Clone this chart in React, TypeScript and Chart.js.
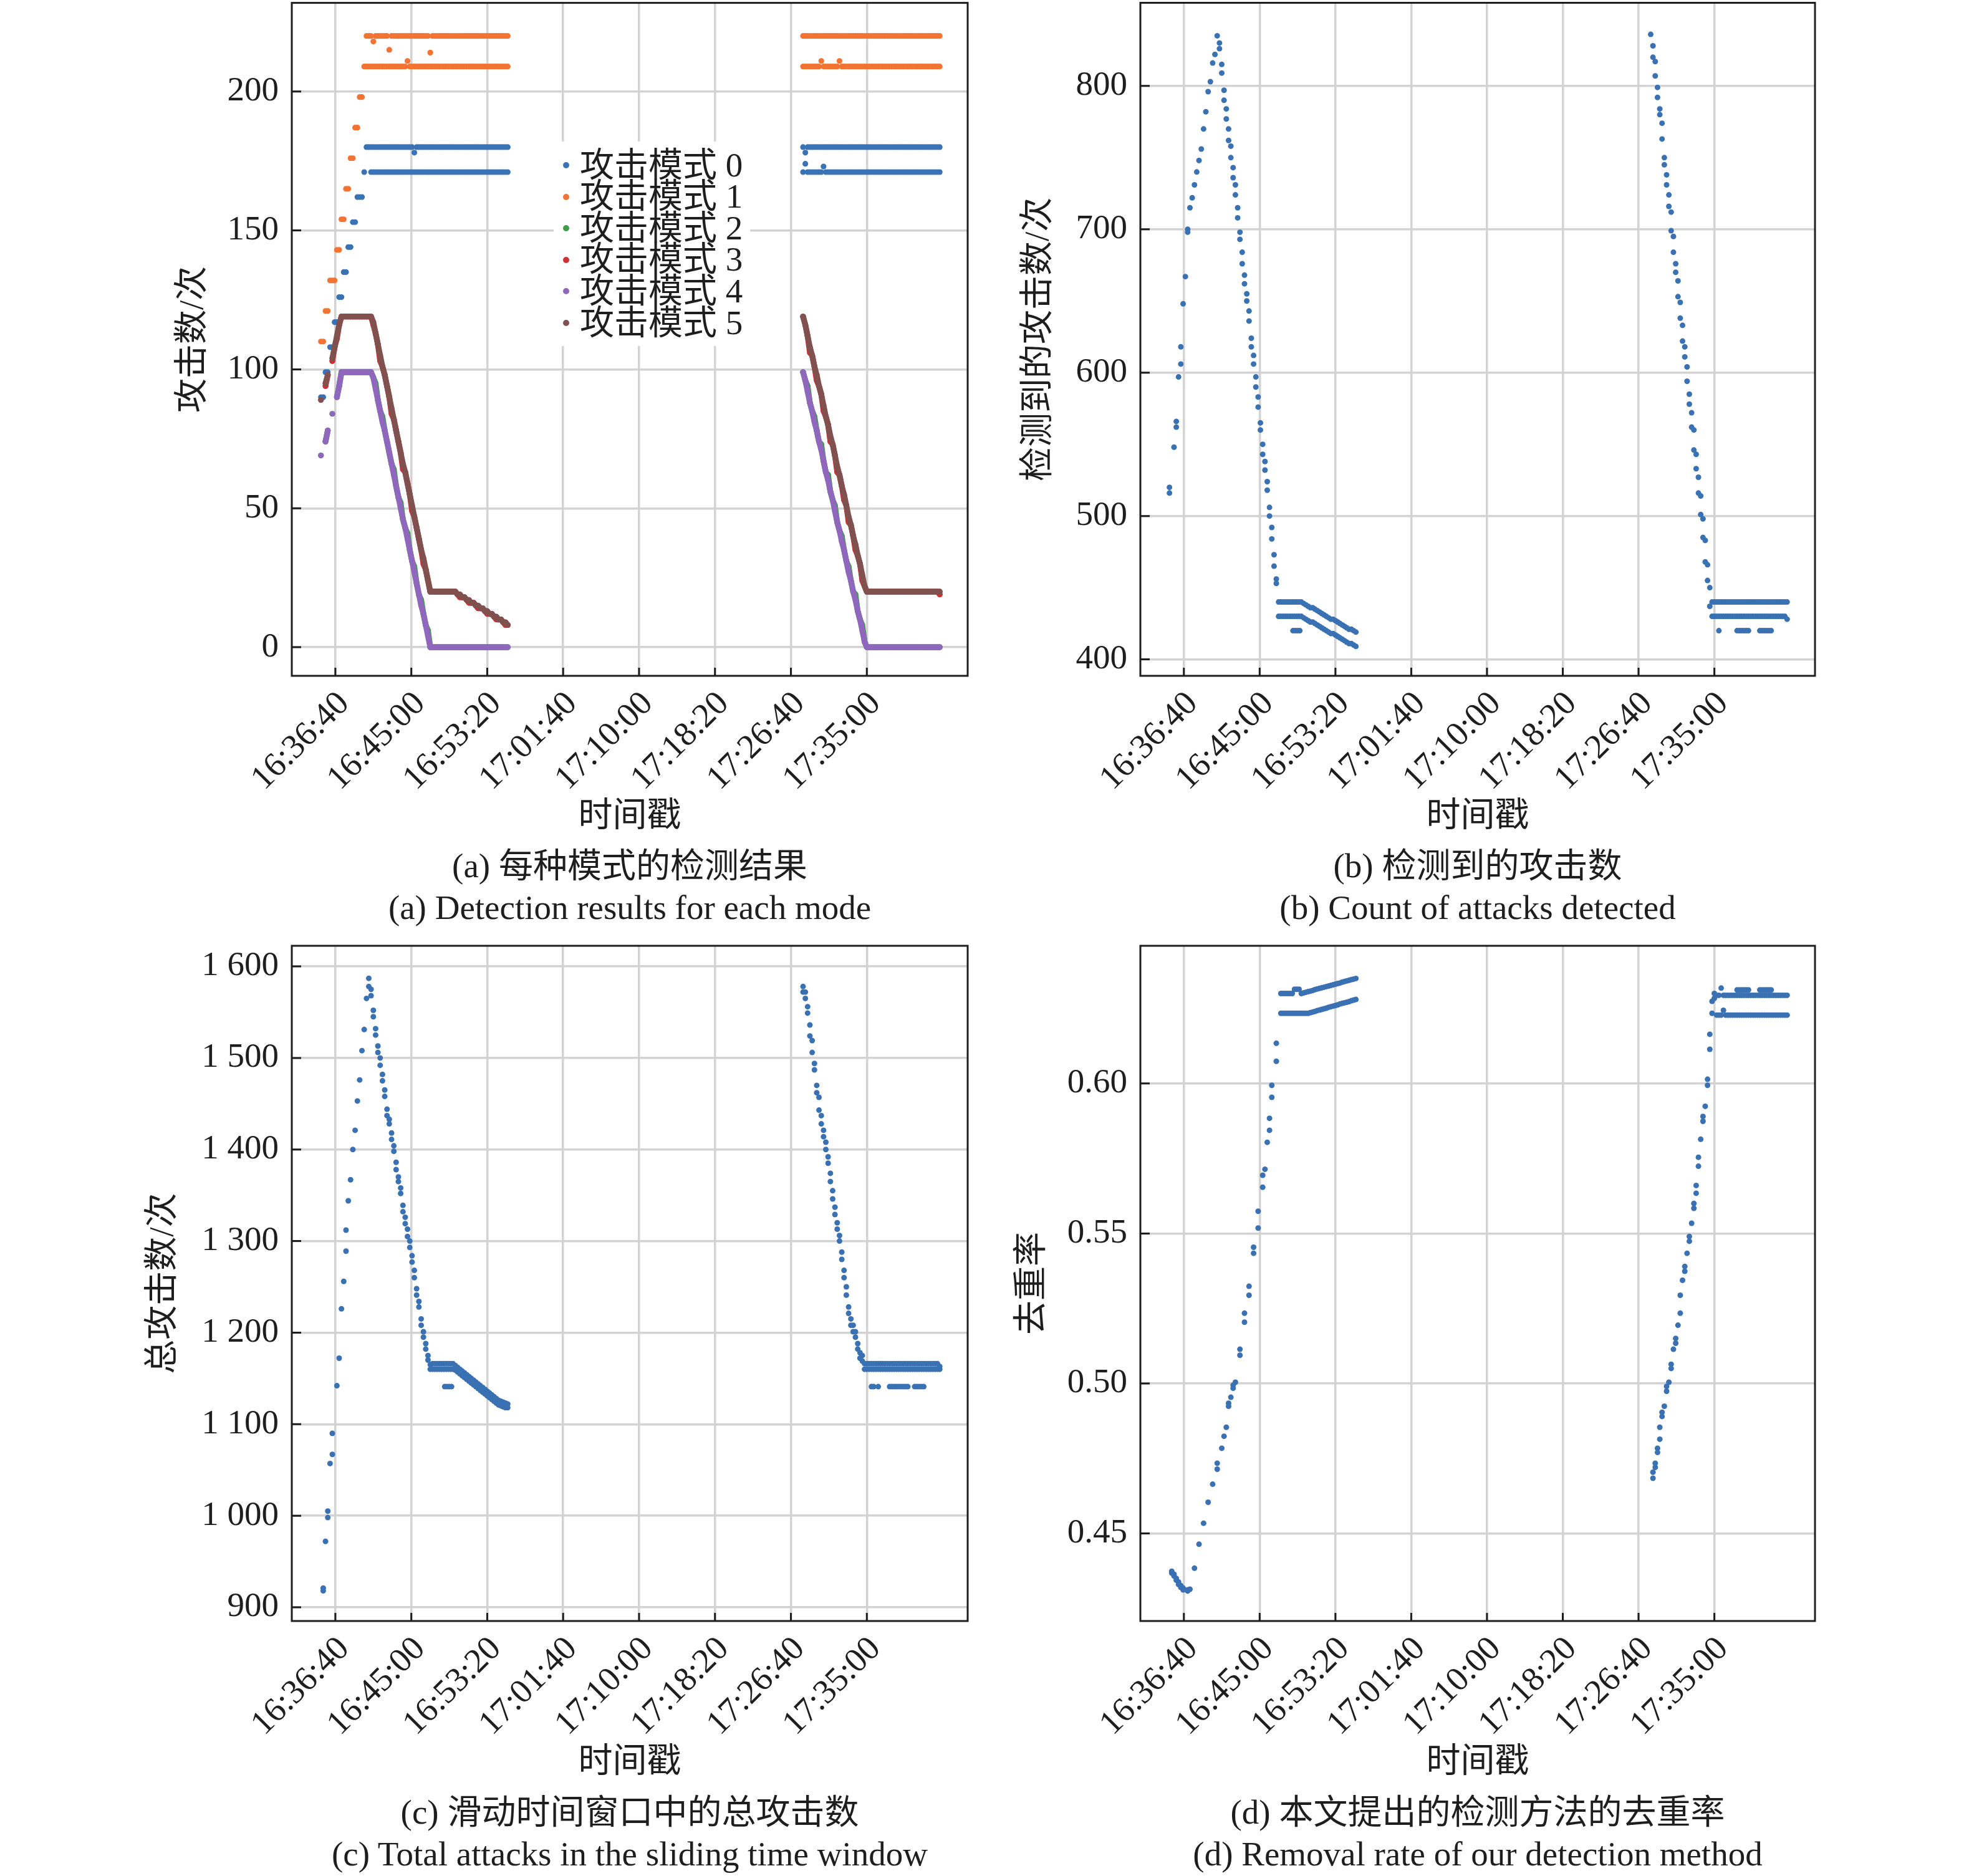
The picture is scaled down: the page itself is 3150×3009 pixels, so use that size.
import { useEffect, useRef } from 'react';
import { Chart, registerables } from 'chart.js';

Chart.register(...registerables);

type Val = number | null;
const N = null;

// time stamps in seconds after 16:30:00 (two recording segments)
const seg1Times = [
  305, 320, 335, 350, 365, 380, 395, 410, 425, 440,
  455, 470, 485, 500, 515, 530, 545, 560, 575, 590,
  605, 620, 635, 650, 665, 680, 695, 710, 725, 740,
  755, 770, 785, 800, 815, 830, 845, 860, 875, 890,
  905, 920, 935, 950, 965, 980, 995, 1010, 1025, 1040,
  1055, 1070, 1085, 1100, 1115, 1130, 1145, 1160, 1175, 1190,
  1205, 1220, 1235, 1250, 1265, 1280, 1295, 1310, 1325, 1340,
  1355, 1370, 1385, 1400, 1415, 1430, 1445, 1460, 1475, 1490,
  1505, 1520, 1535,
];
const seg2Times = [
  3480, 3495, 3510, 3525, 3540, 3555, 3570, 3585, 3600, 3615,
  3630, 3645, 3660, 3675, 3690, 3705, 3720, 3735, 3750, 3765,
  3780, 3795, 3810, 3825, 3840, 3855, 3870, 3885, 3900, 3915,
  3930, 3945, 3960, 3975, 3990, 4005, 4020, 4035, 4050, 4065,
  4080, 4095, 4110, 4125, 4140, 4155, 4170, 4185, 4200, 4215,
  4230, 4245, 4260, 4275, 4290, 4305, 4320, 4335, 4350, 4365,
  4380,
];

const xTickValues = [400, 900, 1400, 1900, 2400, 2900, 3400, 3900];
const xTickLabels = ['16:36:40', '16:45:00', '16:53:20', '17:01:40', '17:10:00', '17:18:20', '17:26:40', '17:35:00'];

const modeNames = ['攻击模式 0', '攻击模式 1', '攻击模式 2', '攻击模式 3', '攻击模式 4', '攻击模式 5'];
const modeColors = ['#3a73b5', '#f27332', '#3b9e47', '#cf3036', '#8f68bd', '#80514e'];

// (a) per-mode detection counts
const mode0Seg1: Val[] = [
  90, 90, 99, 99, 108, 108, 117, 117, 126, 126,
  135, 135, 144, 144, 153, 153, 162, 162, 162, 171,
  N, N, 171, 171, 171, 171, 171, 171, 171, 171,
  171, 171, 171, 171, 171, 171, 171, 171, 171, 171,
  171, 171, 171, 171, 171, 171, 171, 171, 171, 171,
  171, 171, 171, 171, 171, 171, 171, 171, 171, 171,
  171, 171, 171, 171, 171, 171, 171, 171, 171, 171,
  171, 171, 171, 171, 171, 171, 171, 171, 171, 171,
  171, 171, 171,
];
const mode0AltSeg1: Val[] = [
  N, N, N, N, N, N, N, N, N, N,
  N, N, N, N, N, N, N, N, N, N,
  180, 180, 180, 180, 180, 180, 180, 180, 180, 180,
  180, 180, 180, 180, 180, 180, 180, 180, 180, 180,
  180, 178, 180, 180, 180, 180, 180, 180, 180, 180,
  180, 180, 180, 180, 180, 180, 180, 180, 180, 180,
  180, 180, 180, 180, 180, 180, 180, 180, 180, 180,
  180, 180, 180, 180, 180, 180, 180, 180, 180, 180,
  180, 180, 180,
];
const mode0Seg2: Val[] = [
  171, 174, 171, 171, 171, 171, 171, 171, 171, 173,
  171, 171, 171, 171, 171, 171, 171, 171, 171, 171,
  171, 171, 171, 171, 171, 171, 171, 171, 171, 171,
  171, 171, 171, 171, 171, 171, 171, 171, 171, 171,
  171, 171, 171, 171, 171, 171, 171, 171, 171, 171,
  171, 171, 171, 171, 171, 171, 171, 171, 171, 171,
  171,
];
const mode0AltSeg2: Val[] = [
  180, 178, 180, 180, 180, 180, 180, 180, 180, 180,
  180, 180, 180, 180, 180, 180, 180, 180, 180, 180,
  180, 180, 180, 180, 180, 180, 180, 180, 180, 180,
  180, 180, 180, 180, 180, 180, 180, 180, 180, 180,
  180, 180, 180, 180, 180, 180, 180, 180, 180, 180,
  180, 180, 180, 180, 180, 180, 180, 180, 180, 180,
  180,
];
const mode1Seg1: Val[] = [
  110, 110, 121, 121, 132, 132, 132, 143, 143, 154,
  154, 165, 165, 176, 176, 187, 187, 198, 198, 209,
  209, 209, 209, 209, 209, 209, 209, 209, 209, 209,
  209, 209, 209, 209, 209, 209, 209, 209, 211, 209,
  209, 209, 209, 209, 209, 209, 209, 209, 209, 209,
  209, 209, 209, 209, 209, 209, 209, 209, 209, 209,
  209, 209, 209, 209, 209, 209, 209, 209, 209, 209,
  209, 209, 209, 209, 209, 209, 209, 209, 209, 209,
  209, 209, 209,
];
const mode1AltSeg1: Val[] = [
  N, N, N, N, N, N, N, N, N, N,
  N, N, N, N, N, N, N, N, N, N,
  220, 220, 220, 218, 220, 220, 220, 220, 220, 220,
  215, 220, 220, 220, 220, 220, 220, 220, 220, 220,
  220, 220, 220, 220, 220, 220, 220, 220, 214, 220,
  220, 220, 220, 220, 220, 220, 220, 220, 220, 220,
  220, 220, 220, 220, 220, 220, 220, 220, 220, 220,
  220, 220, 220, 220, 220, 220, 220, 220, 220, 220,
  220, 220, 220,
];
const mode1Seg2: Val[] = [
  209, 209, 209, 209, 209, 209, 209, 209, 211, 209,
  209, 209, 209, 209, 209, 209, 211, 209, 209, 209,
  209, 209, 209, 209, 209, 209, 209, 209, 209, 209,
  209, 209, 209, 209, 209, 209, 209, 209, 209, 209,
  209, 209, 209, 209, 209, 209, 209, 209, 209, 209,
  209, 209, 209, 209, 209, 209, 209, 209, 209, 209,
  209,
];
const mode1AltSeg2: Val[] = [
  220, 220, 220, 220, 220, 220, 220, 220, 220, 220,
  220, 220, 220, 220, 220, 220, 220, 220, 220, 220,
  220, 220, 220, 220, 220, 220, 220, 220, 220, 220,
  220, 220, 220, 220, 220, 220, 220, 220, 220, 220,
  220, 220, 220, 220, 220, 220, 220, 220, 220, 220,
  220, 220, 220, 220, 220, 220, 220, 220, 220, 220,
  220,
];
const mode2Seg1: Val[] = [
  69, N, 74, 78, N, 84, N, 90, 94, 99,
  99, 99, 99, 99, 99, 99, 99, 99, 99, 99,
  99, 99, 99, 97, 95, 89, 85, 83, 78, 74,
  70, 66, 64, 58, 54, 52, 46, 43, 41, 35,
  31, 29, 23, 19, 17, 12, 8, 6, 0, 0,
  0, 0, 0, 0, 0, 0, 0, 0, 0, 0,
  0, 0, 0, 0, 0, 0, 0, 0, 0, 0,
  0, 0, 0, 0, 0, 0, 0, 0, 0, 0,
  0, 0, 0,
];
const mode3Seg1: Val[] = [
  89, N, 94, 98, N, 103, 108, 111, 116, 119,
  119, 119, 119, 119, 119, 119, 119, 119, 119, 119,
  119, 119, 119, 116, 113, 109, 103, 101, 98, 94,
  90, 84, 82, 78, 74, 70, 64, 63, 59, 55,
  49, 47, 43, 39, 35, 30, 28, 24, 20, 20,
  20, 20, 20, 20, 20, 20, 20, 20, 20, 20,
  19, 18, 18, 18, 17, 16, 16, 16, 15, 14,
  14, 14, 13, 12, 12, 12, 11, 10, 10, 10,
  9, 8, 8,
];
const mode4Seg1: Val[] = [
  69, N, 74, 78, N, 84, N, 90, 94, 99,
  99, 99, 99, 99, 99, 99, 99, 99, 99, 99,
  99, 99, 99, 97, 93, 89, 85, 81, 78, 74,
  70, 66, 62, 58, 54, 50, 46, 43, 39, 35,
  31, 27, 23, 19, 15, 12, 8, 4, 0, 0,
  0, 0, 0, 0, 0, 0, 0, 0, 0, 0,
  0, 0, 0, 0, 0, 0, 0, 0, 0, 0,
  0, 0, 0, 0, 0, 0, 0, 0, 0, 0,
  0, 0, 0,
];
const mode5Seg1: Val[] = [
  89, N, 95, 98, N, 104, 108, 112, 116, 119,
  119, 119, 119, 119, 119, 119, 119, 119, 119, 119,
  119, 119, 119, 117, 113, 109, 105, 101, 98, 94,
  90, 86, 82, 78, 74, 70, 66, 63, 59, 55,
  51, 47, 43, 39, 35, 32, 28, 24, 20, 20,
  20, 20, 20, 20, 20, 20, 20, 20, 20, 20,
  19, 19, 18, 18, 17, 17, 16, 16, 15, 15,
  14, 14, 13, 13, 12, 12, 11, 11, 10, 10,
  9, 9, 8,
];
const mode2Seg2: Val[] = [
  99, 96, 94, 88, 85, 83, 78, 74, 73, 67,
  63, 62, 56, 53, 51, 45, 42, 40, 35, 31,
  29, 24, 20, 19, 13, 10, 8, 2, 0, 0,
  0, 0, 0, 0, 0, 0, 0, 0, 0, 0,
  0, 0, 0, 0, 0, 0, 0, 0, 0, 0,
  0, 0, 0, 0, 0, 0, 0, 0, 0, 0,
  0,
];
const mode3Seg2: Val[] = [
  119, 116, 112, 106, 105, 101, 96, 94, 91, 85,
  83, 80, 74, 73, 69, 63, 62, 58, 53, 51,
  45, 44, 40, 35, 33, 30, 24, 22, 20, 20,
  20, 20, 20, 20, 20, 20, 20, 20, 20, 20,
  20, 20, 20, 20, 20, 20, 20, 20, 20, 20,
  20, 20, 20, 20, 20, 20, 20, 20, 20, 20,
  19,
];
const mode4Seg2: Val[] = [
  99, 96, 92, 88, 85, 81, 78, 74, 71, 67,
  63, 60, 56, 53, 49, 45, 42, 38, 35, 31,
  27, 24, 20, 17, 13, 10, 6, 2, 0, 0,
  0, 0, 0, 0, 0, 0, 0, 0, 0, 0,
  0, 0, 0, 0, 0, 0, 0, 0, 0, 0,
  0, 0, 0, 0, 0, 0, 0, 0, 0, 0,
  0,
];
const mode5Seg2: Val[] = [
  119, 116, 112, 108, 105, 101, 98, 94, 91, 87,
  83, 80, 76, 73, 69, 65, 62, 58, 55, 51,
  47, 44, 40, 37, 33, 30, 26, 22, 20, 20,
  20, 20, 20, 20, 20, 20, 20, 20, 20, 20,
  20, 20, 20, 20, 20, 20, 20, 20, 20, 20,
  20, 20, 20, 20, 20, 20, 20, 20, 20, 20,
  20,
];

// (b) attacks detected
const detectedSeg1: Val[] = [
  516, N, 548, 566, 597, 618, 648, 667, 698, 715,
  722, 731, 740, 748, 756, 770, 782, 796, 803, 816,
  822, 835, 826, 815, 797, 784, 770, 758, 743, 731,
  715, 698, 684, 668, 655, 643, 624, 612, 597, 583,
  565, 550, 538, 524, 506, 492, 473, 456, 430, 430,
  430, 430, 430, 430, 430, 430, 430, 430, 430, 429,
  428, 427, 426, 426, 425, 424, 423, 422, 421, 420,
  419, 418, 418, 417, 416, 415, 414, 413, 412, 411,
  411, 410, 409,
];
const detectedAltSeg1: Val[] = [
  520, N, N, 562, N, 606, N, N, 700, N,
  N, N, N, N, N, N, N, N, N, N,
  N, N, 830, 809, 790, 777, 762, 750, 736, 724,
  708, 693, 676, 662, 650, 636, 618, 606, 590, 576,
  560, 543, 532, 518, 500, 484, 465, 453, 440, 440,
  440, 440, 440, 440, 440, 440, 440, 440, 440, 439,
  438, 437, 436, 436, 435, 434, 433, 432, 431, 430,
  429, 428, 428, 427, 426, 425, 424, 423, 422, 421,
  421, 420, 419,
];
const detectedSeg2: Val[] = [
  836, 820, 807, 792, 780, 763, 745, 731, 716, 699,
  684, 670, 653, 638, 622, 611, 594, 578, 562, 546,
  533, 516, 501, 485, 468, 455, 437, 430, 430, 430,
  430, 430, 430, 430, 430, 430, 430, 430, 430, 430,
  430, 430, 430, 430, 430, 430, 430, 430, 430, 430,
  430, 430, 430, 430, 430, 430, 430, 430, 430, 430,
  428,
];
const detectedAltSeg2: Val[] = [
  N, 828, 817, 799, 784, 774, 750, 738, 724, 712,
  695, 676, 664, 649, 633, 618, 604, 585, 572, 560,
  543, 527, 514, 498, 483, 466, 450, 440, 440, 440,
  440, 440, 440, 440, 440, 440, 440, 440, 440, 440,
  440, 440, 440, 440, 440, 440, 440, 440, 440, 440,
  440, 440, 440, 440, 440, 440, 440, 440, 440, 440,
  440,
];
const detectedExtraTimes = [1120, 1135, 1150, 1165, 3930, 4050, 4065, 4080, 4095, 4110, 4125, 4200, 4215, 4230, 4245, 4260, 4275];
const detectedExtraValues = [420, 420, 420, 420, 420, 420, 420, 420, 420, 420, 420, 420, 420, 420, 420, 420, 420];

// (c) total attacks in the sliding window
const totalSeg1: Val[] = [
  N, 918, 972, 998, 1057, 1067, N, 1142, 1172, 1226,
  1256, 1289, 1344, 1367, 1400, 1421, 1453, 1476, 1508, 1531,
  1565, 1587, 1568, 1552, 1532, 1513, 1500, 1482, 1458, 1444,
  1428, 1411, 1398, 1378, 1365, 1352, 1339, 1326, 1313, 1293,
  1277, 1260, 1241, 1228, 1215, 1201, 1188, 1175, 1165, 1166,
  1166, 1166, 1166, 1166, 1166, 1166, 1166, 1166, 1166, 1164,
  1162, 1160, 1158, 1156, 1154, 1152, 1150, 1148, 1146, 1144,
  1142, 1140, 1138, 1136, 1134, 1132, 1130, 1128, 1126, 1125,
  1124, 1123, 1122,
];
const totalAltSeg1: Val[] = [
  N, 921, N, 1005, N, 1090, N, N, N, N,
  N, 1312, N, N, N, N, N, N, N, N,
  N, 1578, 1575, 1545, 1525, 1506, 1492, 1475, 1465, 1437,
  1433, 1418, 1404, 1386, 1370, 1358, 1332, 1319, 1305, 1300,
  1284, 1268, 1248, 1234, 1208, 1195, 1182, 1170, 1160, 1160,
  1160, 1160, 1160, 1160, 1160, 1160, 1160, 1160, 1160, 1159,
  1157, 1155, 1153, 1151, 1149, 1147, 1145, 1143, 1141, 1139,
  1137, 1135, 1133, 1131, 1129, 1127, 1125, 1123, 1121, 1120,
  1119, 1118, 1118,
];
const totalSeg2: Val[] = [
  1578, 1565, 1549, 1536, 1506, 1487, 1470, 1457, 1437, 1421,
  1408, 1392, 1365, 1346, 1329, 1313, 1300, 1280, 1260, 1241,
  1228, 1215, 1208, 1201, 1188, 1178, 1169, 1166, 1166, 1166,
  1166, 1166, 1166, 1166, 1166, 1166, 1166, 1166, 1166, 1166,
  1166, 1166, 1166, 1166, 1166, 1166, 1166, 1166, 1166, 1166,
  1166, 1166, 1166, 1166, 1166, 1166, 1166, 1166, 1166, 1166,
  1163,
];
const totalAltSeg2: Val[] = [
  1572, 1572, 1556, 1524, 1519, 1494, 1462, 1443, 1428, 1414,
  1400, 1385, 1374, 1355, 1337, 1320, 1306, 1288, 1268, 1250,
  1221, 1208, 1201, 1195, 1182, 1172, 1175, 1160, 1160, 1160,
  1160, 1160, 1160, 1160, 1160, 1160, 1160, 1160, 1160, 1160,
  1160, 1160, 1160, 1160, 1160, 1160, 1160, 1160, 1160, 1160,
  1160, 1160, 1160, 1160, 1160, 1160, 1160, 1160, 1160, 1160,
  1160,
];
const totalExtraTimes = [1120, 1135, 1150, 1165, 3930, 3945, 3975, 4050, 4065, 4080, 4095, 4110, 4125, 4140, 4155, 4170, 4215, 4230, 4245, 4260, 4275];
const totalExtraValues = [1141, 1141, 1141, 1141, 1141, 1141, 1141, 1141, 1141, 1141, 1141, 1141, 1141, 1141, 1141, 1141, 1141, 1141, 1141, 1141, 1141];

// (d) removal rate
const rateSeg1: Val[] = [
  N, 0.4374, 0.4364, 0.435, 0.4338, 0.4326, 0.4318, N, 0.4308, 0.4314,
  N, 0.4384, N, 0.4464, N, 0.4534, N, 0.4604, N, 0.4664,
  N, 0.4734, N, 0.4784, 0.4824, 0.4854, 0.4924, 0.4954, 0.4994, 0.5004,
  N, 0.5094, N, 0.5204, N, 0.5294, N, 0.5434, N, 0.5518,
  N, 0.5654, 0.5714, 0.5804, 0.5844, 0.5954, N, 0.6074, N, 0.6234,
  0.6234, 0.6234, 0.6234, 0.6234, 0.6234, 0.6234, 0.6234, 0.6234, 0.6234, 0.6234,
  0.6234, 0.6234, 0.6236, 0.6238, 0.624, 0.6243, 0.6245, 0.6247, 0.6249, 0.6251,
  0.6254, 0.6256, 0.6258, 0.626, 0.6262, 0.6265, 0.6267, 0.6269, 0.6271, 0.6273,
  0.6276, 0.6278, 0.628,
];
const rateAltSeg1: Val[] = [
  N, 0.4368, 0.4358, 0.4344, 0.433, 0.432, 0.4312, N, 0.4312, N,
  N, N, N, N, N, N, N, N, N, N,
  N, 0.4714, N, N, N, N, 0.4934, N, 0.4984, N,
  N, 0.5114, N, 0.5234, N, 0.5324, N, 0.5454, N, 0.5574,
  N, 0.5694, N, N, 0.5884, 0.5994, N, 0.6134, N, 0.63,
  0.63, 0.63, 0.63, 0.63, 0.63, 0.6314, 0.6314, 0.6314, 0.63, 0.6302,
  0.6304, 0.6306, 0.6308, 0.631, 0.6313, 0.6315, 0.6317, 0.6319, 0.6321, 0.6323,
  0.6325, 0.6327, 0.6329, 0.6331, 0.6333, 0.6335, 0.6338, 0.634, 0.6342, 0.6344,
  0.6346, 0.6348, 0.635,
];
const rateSeg2: Val[] = [
  N, 0.4684, 0.4734, 0.4784, 0.4814, 0.4904, 0.4924, 0.4974, 0.5004, 0.5064,
  0.5114, 0.5134, 0.5194, 0.5234, 0.5344, 0.5374, 0.5434, 0.5474, 0.5534, 0.5584,
  0.5634, 0.5724, 0.5814, 0.5874, 0.5924, 0.6014, 0.6114, 0.6234, 0.6284, 0.6228,
  0.6228, 0.6228, 0.6244, 0.6228, 0.6228, 0.6228, 0.6228, 0.6228, 0.6228, 0.6228,
  0.6228, 0.6228, 0.6228, 0.6228, 0.6228, 0.6228, 0.6228, 0.6228, 0.6228, 0.6228,
  0.6228, 0.6228, 0.6228, 0.6228, 0.6228, 0.6228, 0.6228, 0.6228, 0.6228, 0.6228,
  0.6228,
];
const rateAltSeg2: Val[] = [
  N, 0.4704, 0.472, 0.477, 0.4854, 0.489, N, 0.499, N, 0.505,
  N, 0.515, N, 0.5294, N, 0.539, N, 0.549, N, 0.56,
  0.566, 0.5754, N, 0.589, N, 0.5994, 0.6164, 0.6274, 0.63, 0.6294,
  0.6294, 0.6318, 0.6294, 0.6294, 0.6294, 0.6294, 0.6294, 0.6294, 0.6294, 0.6294,
  0.6294, 0.6294, 0.6294, 0.6294, 0.6294, 0.6294, 0.6294, 0.6294, 0.6294, 0.6294,
  0.6294, 0.6294, 0.6294, 0.6294, 0.6294, 0.6294, 0.6294, 0.6294, 0.6294, 0.6294,
  0.6294,
];
const rateExtraTimes = [4050, 4065, 4080, 4095, 4110, 4125, 4200, 4215, 4230, 4245, 4260, 4275];
const rateExtraValues = [0.6312, 0.6312, 0.6312, 0.6312, 0.6312, 0.6312, 0.6312, 0.6312, 0.6312, 0.6312, 0.6312, 0.6312];

const ticksA = [0, 50, 100, 150, 200];
const ticksB = [400, 500, 600, 700, 800];
const ticksC = [900, 1000, 1100, 1200, 1300, 1400, 1500, 1600];
const ticksD = [0.45, 0.5, 0.55, 0.6];

const SERIF = '"Liberation Serif", "Times New Roman", "Noto Sans CJK SC", serif';
const INK = '#1e1e1e';
const GRID = '#d3d3d3';
const BLUE = '#3a71b3';
const X_RANGE: [number, number] = [113, 4564];

interface Pt { x: number; y: Val }

const onGrid = (times: number[], vals: Val[]): Pt[] => times.map((t, i) => ({ x: t, y: vals[i] }));
const bothSegs = (s1: Val[], s2: Val[]) => [...onGrid(seg1Times, s1), ...onGrid(seg2Times, s2)];
const present = (pts: Pt[]) => pts.filter((p) => p.y !== null);

// matplotlib-like frame with inward ticks
const framePlugin = {
  id: 'frame',
  afterDraw(chart: any) {
    const { ctx, chartArea: a, scales } = chart;
    ctx.save();
    ctx.strokeStyle = INK;
    ctx.lineWidth = 3;
    ctx.beginPath();
    scales.x.ticks.forEach((t: any) => {
      const px = scales.x.getPixelForValue(t.value);
      ctx.moveTo(px, a.bottom);
      ctx.lineTo(px, a.bottom - 13);
    });
    scales.y.ticks.forEach((t: any) => {
      const py = scales.y.getPixelForValue(t.value);
      ctx.moveTo(a.left, py);
      ctx.lineTo(a.left + 15, py);
    });
    ctx.stroke();
    ctx.strokeRect(a.left, a.top, a.right - a.left, a.bottom - a.top);
    ctx.restore();
  },
};

interface PanelProps {
  box: { left: number; top: number; width: number; height: number };
  pad: { left: number; top: number; right: number; bottom: number };
  yWidth: number;
  xHeight: number;
  yRange: [number, number];
  yTicks: number[];
  yLabel: (v: number) => string;
  yTitle: string;
  datasets: any[];
}

function Panel({ box, pad, yWidth, xHeight, yRange, yTicks, yLabel, yTitle, datasets }: PanelProps) {
  const canvasRef = useRef<HTMLCanvasElement>(null);
  const chartRef = useRef<Chart | null>(null);

  useEffect(() => {
    if (!canvasRef.current) return;
    if (chartRef.current) chartRef.current.destroy();
    const font = { family: SERIF, size: 55 };

    chartRef.current = new Chart(canvasRef.current, {
      type: 'scatter',
      data: { datasets },
      options: {
        animation: false,
        responsive: false,
        devicePixelRatio: 1,
        events: [],
        layout: { padding: pad },
        plugins: { legend: { display: false }, tooltip: { enabled: false } },
        scales: {
          x: {
            type: 'linear',
            min: X_RANGE[0],
            max: X_RANGE[1],
            afterBuildTicks: (s: any) => { s.ticks = xTickValues.map((v) => ({ value: v })); },
            afterFit: (s: any) => { s.height = xHeight; s.paddingLeft = 0; s.paddingRight = 0; },
            grid: { color: GRID, lineWidth: 3.5, drawTicks: false },
            border: { display: false },
            ticks: {
              autoSkip: false,
              minRotation: 45,
              maxRotation: 45,
              padding: 13,
              labelOffset: 14,
              color: INK,
              font,
              callback: (v: any) => xTickLabels[xTickValues.indexOf(Number(v))],
            },
            title: { display: true, text: '时间戳', color: INK, font, padding: { top: 4, bottom: 4 } },
          },
          y: {
            type: 'linear',
            min: yRange[0],
            max: yRange[1],
            afterBuildTicks: (s: any) => { s.ticks = yTicks.map((v) => ({ value: v })); },
            afterFit: (s: any) => { s.width = yWidth; s.paddingTop = 0; s.paddingBottom = 0; },
            grid: { color: GRID, lineWidth: 3.5, drawTicks: false },
            border: { display: false },
            ticks: { padding: 21, color: INK, font, callback: (v: any) => yLabel(Number(v)) },
            title: { display: true, text: yTitle, color: INK, font, padding: { top: 4, bottom: 4 } },
          },
        },
      },
      plugins: [framePlugin],
    } as any);

    return () => {
      if (chartRef.current) {
        chartRef.current.destroy();
        chartRef.current = null;
      }
    };
  }, []);

  return (
    <canvas
      ref={canvasRef}
      width={box.width}
      height={box.height}
      style={{ position: 'absolute', left: box.left, top: box.top, width: box.width, height: box.height }}
    />
  );
}

const blueDots = (data: Pt[]) => [{
  data,
  backgroundColor: BLUE,
  borderColor: BLUE,
  pointRadius: 4.5,
  pointBorderWidth: 0,
}];

const modeData: Pt[][] = [
  present([...bothSegs(mode0Seg1, mode0Seg2), ...bothSegs(mode0AltSeg1, mode0AltSeg2)]),
  present([...bothSegs(mode1Seg1, mode1Seg2), ...bothSegs(mode1AltSeg1, mode1AltSeg2)]),
  bothSegs(mode2Seg1, mode2Seg2),
  bothSegs(mode3Seg1, mode3Seg2),
  bothSegs(mode4Seg1, mode4Seg2),
  bothSegs(mode5Seg1, mode5Seg2),
];

const modeDatasets = modeData.map((data, i) => ({
  label: modeNames[i],
  data,
  order: 5 - i,
  backgroundColor: modeColors[i],
  borderColor: modeColors[i],
  pointRadius: 4.6,
  pointBorderWidth: 0,
  showLine: i >= 2,
  spanGaps: false,
  borderWidth: 9.2,
  borderCapStyle: 'round',
  borderJoinStyle: 'round',
  segment: {
    borderColor: (ctx: any) => (ctx.p1.parsed.x - ctx.p0.parsed.x > 40 ? 'rgba(0,0,0,0)' : modeColors[i]),
  },
}));

const detectedData = present([
  ...bothSegs(detectedSeg1, detectedSeg2),
  ...bothSegs(detectedAltSeg1, detectedAltSeg2),
  ...onGrid(detectedExtraTimes, detectedExtraValues),
]);
const totalData = present([
  ...bothSegs(totalSeg1, totalSeg2),
  ...bothSegs(totalAltSeg1, totalAltSeg2),
  ...onGrid(totalExtraTimes, totalExtraValues),
]);
const rateData = present([
  ...bothSegs(rateSeg1, rateSeg2),
  ...bothSegs(rateAltSeg1, rateAltSeg2),
  ...onGrid(rateExtraTimes, rateExtraValues),
]);

const withSpace = (v: number) => (v >= 1000 ? `${Math.floor(v / 1000)} ${String(v % 1000).padStart(3, '0')}` : String(v));

const captions = [
  { cx: 1010, y: 1389, text: '(a) 每种模式的检测结果' },
  { cx: 1010, y: 1456, text: '(a) Detection results for each mode' },
  { cx: 2370, y: 1389, text: '(b) 检测到的攻击数' },
  { cx: 2370, y: 1456, text: '(b) Count of attacks detected' },
  { cx: 1010, y: 2907, text: '(c) 滑动时间窗口中的总攻击数' },
  { cx: 1010, y: 2974, text: '(c) Total attacks in the sliding time window' },
  { cx: 2370, y: 2907, text: '(d) 本文提出的检测方法的去重率' },
  { cx: 2370, y: 2974, text: '(d) Removal rate of our detection method' },
];

export default function App() {
  return (
    <div style={{ position: 'absolute', left: 0, top: 0, width: 3150, height: 3009, background: '#ffffff', overflow: 'hidden' }}>
      <Panel
        box={{ left: 0, top: 0, width: 1575, height: 1348 }}
        pad={{ left: 274, top: 1, right: 23, bottom: 0 }}
        yWidth={194}
        xHeight={264}
        yRange={[-10.3, 231.9]}
        yTicks={ticksA}
        yLabel={(v) => String(v)}
        yTitle="攻击数/次"
        datasets={modeDatasets}
      />
      <Panel
        box={{ left: 1575, top: 0, width: 1575, height: 1348 }}
        pad={{ left: 55, top: 2, right: 239, bottom: 0 }}
        yWidth={199}
        xHeight={264}
        yRange={[388.5, 858]}
        yTicks={ticksB}
        yLabel={(v) => String(v)}
        yTitle="检测到的攻击数/次"
        datasets={blueDots(detectedData)}
      />
      <Panel
        box={{ left: 0, top: 1500, width: 1575, height: 1365 }}
        pad={{ left: 226, top: 17, right: 23, bottom: 0 }}
        yWidth={242}
        xHeight={265}
        yRange={[885, 1622.5]}
        yTicks={ticksC}
        yLabel={withSpace}
        yTitle="总攻击数/次"
        datasets={blueDots(totalData)}
      />
      <Panel
        box={{ left: 1575, top: 1500, width: 1575, height: 1365 }}
        pad={{ left: 45, top: 17, right: 239, bottom: 0 }}
        yWidth={209}
        xHeight={265}
        yRange={[0.4208, 0.6459]}
        yTicks={ticksD}
        yLabel={(v) => v.toFixed(2)}
        yTitle="去重率"
        datasets={blueDots(rateData)}
      />

      <div style={{ position: 'absolute', left: 888, top: 227, width: 315, height: 328, background: '#ffffff', paddingTop: 12.7, boxSizing: 'border-box' }}>
        {modeNames.map((name, i) => (
          <div key={name} style={{ display: 'flex', alignItems: 'center', height: 50.6 }}>
            <span style={{ display: 'inline-block', width: 10, height: 10, borderRadius: '50%', background: modeColors[i], marginLeft: 15 }} />
            <span style={{ marginLeft: 17, font: `55px ${SERIF}`, lineHeight: '50.6px', color: INK, whiteSpace: 'pre' }}>{name}</span>
          </div>
        ))}
      </div>

      {captions.map((c) => (
        <div
          key={c.text}
          style={{
            position: 'absolute', left: c.cx - 800, top: c.y - 33, width: 1600, height: 66,
            textAlign: 'center', font: `55px ${SERIF}`, lineHeight: '66px', color: INK, whiteSpace: 'pre',
          }}
        >
          {c.text}
        </div>
      ))}
    </div>
  );
}
